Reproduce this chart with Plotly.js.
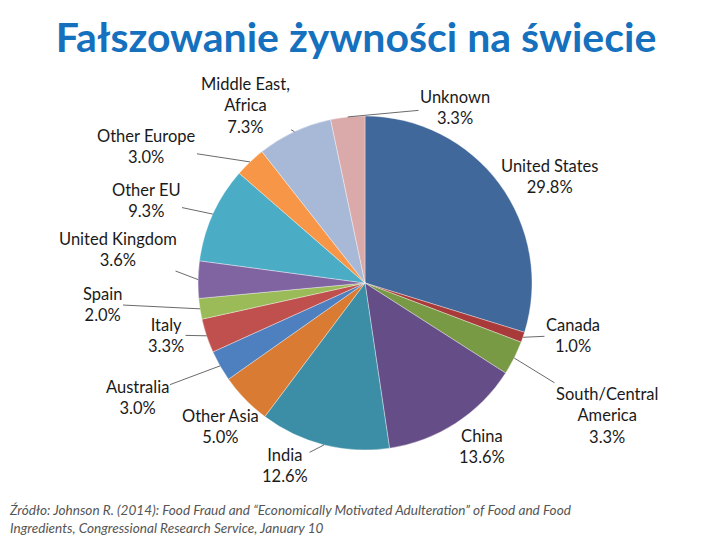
<!DOCTYPE html>
<html>
<head>
<meta charset="utf-8">
<script src="https://cdn.plot.ly/plotly-3.0.1.min.js"></script>
<style>html,body{margin:0;padding:0;background:#fff;}#chart{width:720px;height:540px;}</style>
</head>
<body>
<div id="chart"></div>
<script>
const regions = ["United States", "Canada", "South/Central America", "China", "India", "Other Asia", "Australia", "Italy", "Spain", "United Kingdom", "Other EU", "Other Europe", "Middle East, Africa", "Unknown"];
const labelText = ["United States", "Canada", "South/Central<br>America", "China", "India", "Other Asia", "Australia", "Italy", "Spain", "United Kingdom", "Other EU", "Other Europe", "Middle East,<br>Africa", "Unknown"];
const shares = [29.8, 1.0, 3.3, 13.6, 12.6, 5.0, 3.0, 3.3, 2.0, 3.6, 9.3, 3.0, 7.3, 3.3];
const colors = ["#41689A", "#A83B39", "#789A45", "#654D87", "#3B8EA5", "#D97B32", "#4E7FBF", "#C0504D", "#9BBB59", "#8064A2", "#4BACC6", "#F79646", "#A8B9D8", "#D9AAA9"];

// layout: label text centres (px) and whether a leader line is drawn
const W = 720, H = 540;
const cx = 365, cy = 283, R = 167;
const labelPos = [[549,176],[573,335],[607,415],[482,447],[285,465],[220,426],[137,397],[166,335],[102,304],[118,249],[146,200],[146,146],[245,105],[455,107]];
const leader = [false, true, true, false, true, false, true, true, true, true, true, true, true, true];

const total = shares.reduce((a,b)=>a+b,0);
let cum = 0;
const annotations = [];
shares.forEach((v,i)=>{
  const mid = (cum + v/2)/total * 2*Math.PI;
  cum += v;
  const tx = cx + R*Math.sin(mid), ty = cy - R*Math.cos(mid);
  const txt = labelText[i] + "<br>" + v.toFixed(1) + "%";
  const font = {family: "Lato, 'Open Sans', sans-serif", size: 16.5, color: "#1a1a1a"};
  if (leader[i]) {
    annotations.push({xref:"paper", yref:"paper", x: tx/W, y: 1-ty/H, ax: labelPos[i][0]-tx, ay: labelPos[i][1]-ty,
      text: txt, showarrow: true, arrowhead: 0, arrowwidth: 0.8, arrowcolor: "#444", font: font, align: "center"});
  } else {
    annotations.push({xref:"paper", yref:"paper", x: labelPos[i][0]/W, y: 1-labelPos[i][1]/H,
      xanchor:"center", yanchor:"middle", text: txt, showarrow: false, font: font, align: "center"});
  }
});

annotations.push({xref:"paper", yref:"paper", x: 7/W, y: 1-519/H, xanchor:"left", yanchor:"middle", align:"left", showarrow:false,
  text: "<i>Źródło: Johnson R. (2014): Food Fraud and “Economically Motivated Adulteration” of Food and Food<br>Ingredients, Congressional Research Service, January 10</i>",
  font: {family: "Lato, 'Open Sans', sans-serif", size: 13.6, color: "#555"}});

const data = [{
  type: "pie", labels: regions, values: shares, sort: false, direction: "clockwise", rotation: 0,
  marker: {colors: colors, line: {color: "rgba(255,255,255,0.6)", width: 0.6}},
  textinfo: "none", hoverinfo: "label+percent", showlegend: false,
  domain: {x: [(cx-R)/W, (cx+R)/W], y: [1-(cy+R)/H, 1-(cy-R)/H]}
}];

const layout = {
  width: W, height: H, margin: {l:0, r:0, t:0, b:0},
  paper_bgcolor: "#fff", plot_bgcolor: "#fff",
  title: {text: "<b>Fałszowanie żywności na świecie</b>", x: 356/W, xanchor: "center", y: 1-38/H, yanchor: "middle",
    font: {family: "Lato, 'Open Sans', sans-serif", size: 41, color: "#1570BE"}},
  annotations: annotations, showlegend: false
};
Plotly.newPlot("chart", data, layout, {displayModeBar: false, staticPlot: true});
</script>
</body>
</html>
